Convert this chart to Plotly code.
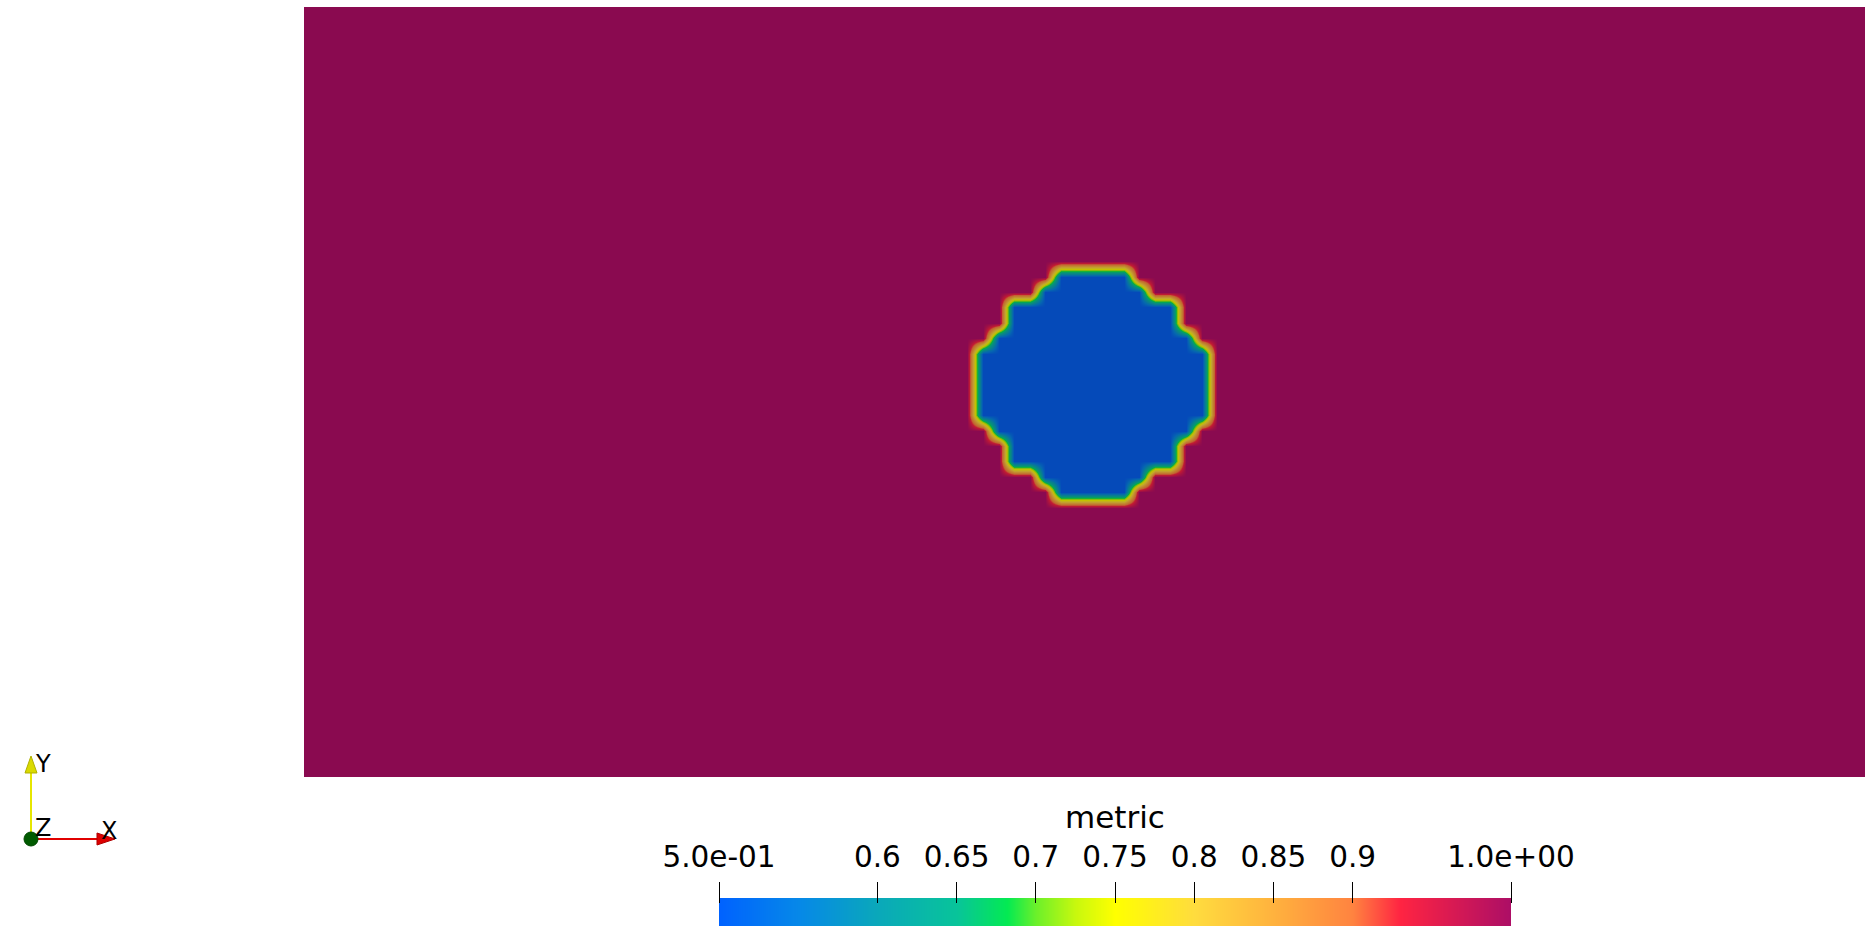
import numpy as np
import plotly.graph_objects as go

W, H = 1872, 940

# ---------------- data ----------------
# 100 x 50 cell grid over the 2 x 1 domain, "metric" value per cell
n_cells_x, n_cells_y = 100, 50
domain_x = [0.0, 2.0]
domain_y = [0.0, 1.0]
metric_outside = 1.0
metric_inside = 0.5

# cell rows (from bottom) inside the refined blob, with first / last cell column
blob_rows = list(range(18, 33))
blob_first = [48, 47, 45, 45, 44, 43, 43, 43, 43, 43, 44, 45, 45, 47, 48]
blob_last = [52, 53, 55, 55, 56, 57, 57, 57, 57, 57, 56, 55, 55, 53, 52]

# colour bar
cbar_range = [0.5, 1.0]
cbar_title = "metric"
tick_vals = [0.5, 0.6, 0.65, 0.7, 0.75, 0.8, 0.85, 0.9, 1.0]
tick_text = ["5.0e-01", "0.6", "0.65", "0.7", "0.75", "0.8", "0.85", "0.9", "1.0e+00"]

# colour map (rainbow uniform style)
cmap_pos = [0.0, 0.10, 0.20, 0.30, 0.364, 0.40, 0.45, 0.50, 0.60, 0.70, 0.80, 0.86, 1.0]
cmap_hex = ["#0062FF", "#0688E8", "#0AA8BA", "#08C49A", "#04EA52", "#6CF02A",
            "#C8F80E", "#FFFF00", "#FFDC3E", "#FFB23E", "#FF8340", "#FF2442", "#AC0E66"]

# ---------------- build ----------------
dx = (domain_x[1] - domain_x[0]) / n_cells_x
dy = (domain_y[1] - domain_y[0]) / n_cells_y
x_cent = domain_x[0] + dx * (np.arange(n_cells_x) + 0.5)
y_cent = domain_y[0] + dy * (np.arange(n_cells_y) + 0.5)
z = np.full((n_cells_y, n_cells_x), metric_outside)
for j, a, b in zip(blob_rows, blob_first, blob_last):
    z[j, a:b + 1] = metric_inside


def shade(hx, k=0.76):
    r, g, b = int(hx[1:3], 16), int(hx[3:5], 16), int(hx[5:7], 16)
    return "rgb(%d,%d,%d)" % (round(r * k), round(g * k), round(b * k))


bright_scale = [[p, c] for p, c in zip(cmap_pos, cmap_hex)]
lit_cols = [shade(c) for c in cmap_hex]
lit_cols[0] = "#054AB9"
lit_cols[-1] = "#8A0A50"
lit_scale = [[p, c] for p, c in zip(cmap_pos, lit_cols)]

FONT = "DejaVu Sans"

fig = go.Figure()
fig.add_trace(go.Heatmap(
    x=x_cent, y=y_cent, z=z, zmin=cbar_range[0], zmax=cbar_range[1],
    colorscale=lit_scale, zsmooth="best", showscale=False, hoverinfo="skip"))
fig.add_trace(go.Heatmap(
    x=cbar_range, y=[0, 1], z=[cbar_range, cbar_range],
    zmin=cbar_range[0], zmax=cbar_range[1], colorscale=bright_scale,
    zsmooth="best", showscale=False, hoverinfo="skip", xaxis="x2", yaxis="y2"))


def px(x):
    return x / W


def py(y):
    return 1 - y / H


fig.update_layout(
    width=W, height=H,
    margin=dict(l=0, r=0, t=0, b=0, pad=0, autoexpand=False),
    paper_bgcolor="white", plot_bgcolor="white", showlegend=False,
    xaxis=dict(domain=[px(304), px(1865)], range=domain_x, visible=False, automargin=False),
    yaxis=dict(domain=[py(777), py(7)], range=domain_y, visible=False, automargin=False),
    xaxis2=dict(domain=[px(719), px(1511)], range=cbar_range, anchor="free",
                position=py(903), side="top", showgrid=False, zeroline=False,
                showline=False, ticks="outside", ticklen=21, tickwidth=1,
                tickcolor="black", tickmode="array", tickvals=tick_vals,
                ticktext=tick_text, ticklabelstandoff=3, automargin=False,
                tickfont=dict(family=FONT, size=29.5, color="black")),
    yaxis2=dict(domain=[py(926), py(898)], range=[0, 1], anchor="x2",
                visible=False, automargin=False),
)

annotations = [
    dict(text=cbar_title, xref="x2 domain", x=0.5, yref="paper", y=py(817),
         xanchor="center", yanchor="middle", showarrow=False,
         font=dict(family=FONT, size=31, color="black")),
]
for lab, cx, cy in [("Y", 43, 764), ("Z", 43, 828), ("X", 109, 831)]:
    annotations.append(dict(text=lab, xref="paper", yref="paper", x=px(cx), y=py(cy),
                            xanchor="center", yanchor="middle", showarrow=False,
                            font=dict(family=FONT, size=24, color="black")))
fig.update_layout(annotations=annotations)

ox, oy = 31, 839
shapes = [
    dict(type="line", xref="paper", yref="paper", x0=px(ox), y0=py(oy), x1=px(ox), y1=py(772),
         line=dict(color="#E6E600", width=2)),
    dict(type="path", xref="paper", yref="paper",
         path="M %f %f L %f %f L %f %f Z" % (px(25), py(773), px(37), py(773), px(31), py(756)),
         fillcolor="#DADA00", line=dict(color="#B0B000", width=1)),
    dict(type="line", xref="paper", yref="paper", x0=px(ox), y0=py(oy), x1=px(98), y1=py(oy),
         line=dict(color="#E00000", width=2)),
    dict(type="path", xref="paper", yref="paper",
         path="M %f %f L %f %f L %f %f Z" % (px(97), py(833), px(97), py(845), px(115), py(839)),
         fillcolor="#DD0000", line=dict(color="#B00000", width=1)),
    dict(type="circle", xref="paper", yref="paper", x0=px(ox - 7), y0=py(oy + 7),
         x1=px(ox + 7), y1=py(oy - 7), fillcolor="#005A00", line=dict(color="#004800", width=1)),
]
fig.update_layout(shapes=shapes)

fig.write_html("out.html", config={"displayModeBar": False},
               post_script="document.body.style.margin='0';document.body.style.overflow='hidden';")
